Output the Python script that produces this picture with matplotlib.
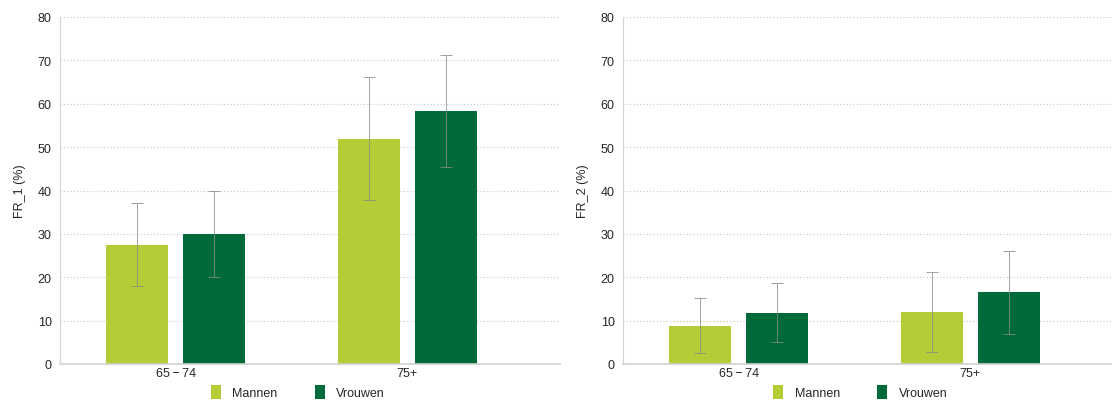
import matplotlib
matplotlib.use("Agg")
import matplotlib.pyplot as plt
import numpy as np

GROUPS = ["65\u2009\u2212\u200974", "75+"]
SERIES = ["Mannen", "Vrouwen"]
COLORS = {"Mannen": "#b2cd35", "Vrouwen": "#006a38"}

# FR_1 (%)
FR1_MEAN = {"Mannen": [27.5, 51.8], "Vrouwen": [29.9, 58.4]}
FR1_LOW = {"Mannen": [17.9, 37.9], "Vrouwen": [20.1, 45.5]}
FR1_HIGH = {"Mannen": [37.1, 66.1], "Vrouwen": [39.8, 71.2]}

# FR_2 (%)
FR2_MEAN = {"Mannen": [8.8, 12.1], "Vrouwen": [11.7, 16.7]}
FR2_LOW = {"Mannen": [2.5, 2.7], "Vrouwen": [5.0, 6.9]}
FR2_HIGH = {"Mannen": [15.2, 21.1], "Vrouwen": [18.7, 26.1]}

plt.rcParams["font.family"] = ["Liberation Sans", "DejaVu Sans"]
plt.rcParams["font.size"] = 9

TEXT = "#262626"


def draw_panel(ax, mean, low, high, ylabel):
    x = np.arange(len(GROUPS))
    width = 0.267
    offsets = [-0.166, 0.166]
    for s, off in zip(SERIES, offsets):
        m = np.asarray(mean[s])
        err = np.vstack([m - np.asarray(low[s]), np.asarray(high[s]) - m])
        ax.bar(x + off, m, width, color=COLORS[s], label=s, zorder=2)
        ax.errorbar(x + off, m, yerr=err, fmt="none", ecolor="#8a8a8a", elinewidth=0.7,
                    capsize=4, capthick=0.7, alpha=0.8, zorder=3)
    ax.set_xlim(-0.5, 1.66)
    ax.set_ylim(0, 80)
    ax.set_yticks(np.arange(0, 81, 10))
    ax.set_xticks(x)
    ax.set_xticklabels(GROUPS)
    ax.tick_params(axis="both", length=0, colors=TEXT, labelsize=9)
    ax.tick_params(axis="y", pad=6)
    ax.tick_params(axis="x", pad=2)
    ax.grid(axis="y", linestyle=(0, (1, 2)), color="#c8c8c8", linewidth=0.8, zorder=0)
    for side in ["top", "right"]:
        ax.spines[side].set_visible(False)
    ax.spines["left"].set_color("#d4d4d4")
    ax.spines["bottom"].set_color("#d0d0d0")
    ax.spines["bottom"].set_linewidth(1.2)
    ax.set_ylabel(ylabel, color=TEXT, fontsize=9)
    ax.yaxis.set_label_coords(-0.068, 0.5)
    ax.legend(loc="upper center", bbox_to_anchor=(0.475, -0.04), ncol=2, frameon=False,
              handlelength=0.8, handleheight=1.3, handletextpad=0.9, columnspacing=3.0,
              fontsize=9, labelcolor=TEXT, borderaxespad=0.2)


fig = plt.figure(figsize=(11.12, 4.02), dpi=100)
ax1 = fig.add_axes([60 / 1112, 37 / 402, 500 / 1112, 347 / 402])
ax2 = fig.add_axes([623 / 1112, 37 / 402, 500 / 1112, 347 / 402])
draw_panel(ax1, FR1_MEAN, FR1_LOW, FR1_HIGH, "FR_1 (%)")
draw_panel(ax2, FR2_MEAN, FR2_LOW, FR2_HIGH, "FR_2 (%)")
fig.savefig("out.png", dpi=100)
